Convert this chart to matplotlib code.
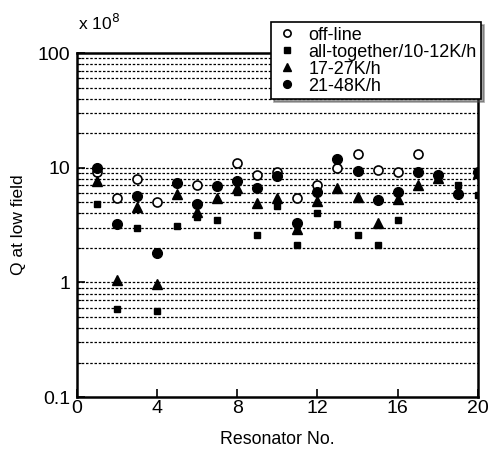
import matplotlib
matplotlib.use("Agg")
import matplotlib.pyplot as plt
import numpy as np
from matplotlib.ticker import FixedLocator, NullFormatter, LogLocator

plt.rcParams['font.family'] = ['Liberation Sans', 'DejaVu Sans']

# Data (Q in units of 1e8)
offline_x = [1, 2, 3, 4, 6, 8, 9, 10, 11, 12, 13, 14, 15, 16, 17]
offline_y = [9.1, 5.5, 8.0, 5.0, 7.1, 11.1, 8.7, 9.1, 5.5, 7.1, 9.9, 13.2, 9.5, 9.1, 13.2]

all_x = [1, 2, 3, 4, 5, 6, 7, 8, 9, 10, 11, 12, 13, 14, 15, 16, 18, 19, 20]
all_y = [4.8, 0.59, 3.0, 0.56, 3.1, 3.7, 3.5, 6.2, 2.6, 4.6, 2.1, 4.0, 3.2, 2.6, 2.1, 3.5, 7.9, 7.0, 5.8]

t17_x = [1, 2, 3, 4, 5, 6, 7, 8, 9, 10, 11, 12, 13, 14, 15, 16, 17, 18, 19, 20]
t17_y = [7.6, 1.05, 4.5, 0.96, 5.9, 4.1, 5.4, 6.6, 4.9, 5.4, 2.9, 5.1, 6.6, 5.6, 3.3, 5.3, 7.1, 8.2, 6.4, 9.0]

t21_x = [1, 2, 3, 4, 5, 6, 7, 8, 9, 10, 11, 12, 13, 14, 15, 16, 17, 18, 19, 20]
t21_y = [10.0, 3.2, 5.7, 1.8, 7.4, 4.8, 6.9, 7.7, 6.7, 8.4, 3.3, 6.1, 11.9, 9.3, 5.2, 6.1, 9.1, 8.7, 5.9, 9.1]

labels = ['off-line', 'all-together/10-12K/h', '17-27K/h', '21-48K/h']

fig = plt.figure(figsize=(4.9, 4.57), dpi=100)
ax = fig.add_axes([0.157, 0.131, 0.818, 0.753])
ax.set_yscale('log')
ax.set_xlim(0, 20)
ax.set_ylim(0.1, 100)

# dotted grid at all decade subdivisions
for dec in [0.1, 1, 10]:
    for m in range(1, 10):
        v = dec * m
        if v <= 0.1 or v >= 100:
            continue
        ax.axhline(v, color='black', lw=0.9, ls=(0, (2.0, 1.4)), zorder=1)

h1, = ax.plot(offline_x, offline_y, 'o', mfc='white', mec='black', mew=1.2, ms=6.5, ls='none', zorder=3)
h2, = ax.plot(all_x, all_y, 's', color='black', ms=5, ls='none', zorder=3)
h3, = ax.plot(t17_x, t17_y, '^', color='black', ms=6.5, ls='none', zorder=3)
h4, = ax.plot(t21_x, t21_y, 'o', color='black', ms=7, ls='none', zorder=4)

ax.set_xticks([0, 4, 8, 12, 16, 20])
ax.yaxis.set_major_locator(FixedLocator([0.1, 1, 10, 100]))
ax.set_yticklabels(['0.1', '1', '10', '100'])
ax.yaxis.set_minor_locator(LogLocator(base=10, subs=np.arange(2, 10)))
ax.yaxis.set_minor_formatter(NullFormatter())
ax.tick_params(axis='both', which='major', direction='in', length=6, width=1.2, labelsize=14)
ax.tick_params(axis='y', which='minor', direction='in', length=3, width=0.8)
ax.tick_params(axis='x', pad=2)
ax.tick_params(axis='y', pad=5)
for s in ax.spines.values():
    s.set_linewidth(1.8)

ax.set_xlabel('Resonator No.', fontsize=12.8, labelpad=10)
ax.set_ylabel('Q at low field', fontsize=12.5, labelpad=8)

fig.text(0.16, 0.928, r'x 10$^{8}$', fontsize=12.5, ha='left', va='bottom')

leg = ax.legend([h1, h2, h3, h4], labels, loc='upper right', bbox_to_anchor=(1.008, 1.09),
                fontsize=13, frameon=True, fancybox=False, shadow=True,
                handletextpad=0.5, borderpad=0.25, labelspacing=0.0, handlelength=1.3,
                borderaxespad=0.0, markerscale=0.8)
leg.get_frame().set_edgecolor('black')
leg.get_frame().set_linewidth(1.2)
leg.set_zorder(10)

fig.savefig('out.png', dpi=100)
